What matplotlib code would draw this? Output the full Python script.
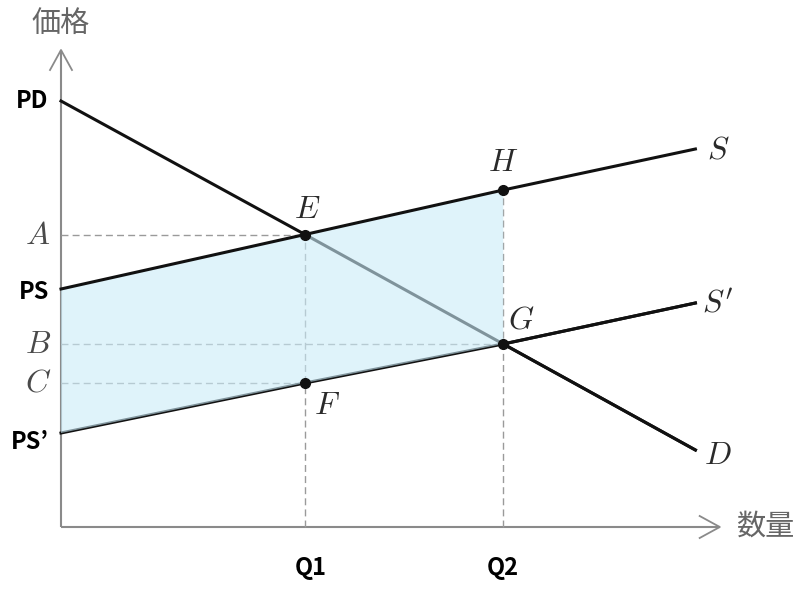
import matplotlib
matplotlib.use("Agg")
import matplotlib.pyplot as plt

plt.rcParams['font.family'] = ['Noto Sans CJK JP', 'DejaVu Sans']
plt.rcParams['mathtext.fontset'] = 'cm'

# quantities on the horizontal axis
q1 = 4.0
q2 = 7.25
x_end = 10.4
curve_x = [0, q1, q2, x_end]

# prices on the vertical axis
price_pd = 8.52
price_ps = 4.76
price_ps2 = 1.88
price_a = 5.85
price_b = 3.66
price_c = 2.88
price_h = 6.74

# curves: S (supply), S' (supply after subsidy), D (demand)
supply_y = [price_ps, price_a, price_h, 7.56]
supply2_y = [price_ps2, price_c, price_b, 4.48]
demand_y = [price_pd, price_a, price_b, 1.54]

x_top = 10.8
y_top = 9.54

fig = plt.figure(figsize=(8, 5.91), dpi=100)
ax = fig.add_axes([0, 0, 1, 1])
ax.set_xlim(-1, 800 / 61 - 1)
ax.set_ylim(-64 / 50, 527 / 50)
ax.axis('off')

axis_col = '#8a8a8a'
dash_col = '#9a9a9a'

# axes with open arrow heads
ax.plot([0, 0], [0, y_top], color=axis_col, lw=1.5, solid_capstyle='butt')
ax.plot([0, x_top], [0, 0], color=axis_col, lw=1.5, solid_capstyle='butt')
ax.plot([-0.18, 0, 0.18], [y_top - 0.4, y_top, y_top - 0.4], color=axis_col, lw=1.3)
ax.plot([x_top - 0.33, x_top, x_top - 0.33], [0.22, 0, -0.22], color=axis_col, lw=1.3)

# guide lines
dash = (0, (5, 3))
ax.plot([0, q1], [price_a, price_a], color=dash_col, lw=1, ls=dash)
ax.plot([0, q2], [price_b, price_b], color=dash_col, lw=1, ls=dash)
ax.plot([0, q1], [price_c, price_c], color=dash_col, lw=1, ls=dash)
ax.plot([q1, q1], [0, price_a], color=dash_col, lw=1, ls=dash)
ax.plot([q2, q2], [0, price_h], color=dash_col, lw=1, ls=dash)

# curves under the shaded area
ax.plot(curve_x, supply2_y, color='#111111', lw=2.2, zorder=2)
ax.plot(curve_x, demand_y, color='#111111', lw=2.2, zorder=2)

# subsidy area
poly_x = [0, q1, q2, q2, q1, 0]
poly_y = [supply_y[0], supply_y[1], supply_y[2], supply2_y[2], supply2_y[1], supply2_y[0]]
ax.fill(poly_x, poly_y, color=(202 / 255, 235 / 255, 248 / 255), alpha=0.6, lw=0, zorder=3)
ax.plot(curve_x[2:], supply2_y[2:], color='#111111', lw=2.2, zorder=4)
ax.plot(curve_x[2:], demand_y[2:], color='#111111', lw=2.2, zorder=4)
ax.plot(curve_x, supply_y, color='#111111', lw=2.2, zorder=4)

# points
pts_x = [q1, q1, q2, q2]
pts_y = [price_a, price_c, price_b, price_h]
ax.plot(pts_x, pts_y, 'o', color='#111111', ms=7, zorder=5)

# letter labels
serif = dict(fontsize=23, color='#2a2a2a', ha='center', va='center')
ax.text(q1 + 0.03, price_a + 0.5, '$E$', **serif)
ax.text(q1 + 0.36, price_c - 0.45, '$F$', **serif)
ax.text(q2 + 0.3, price_b + 0.48, '$G$', **serif)
ax.text(q2, price_h + 0.55, '$H$', **serif)
ax.text(x_end + 0.37, supply_y[-1] - 0.02, '$S$', **serif)
ax.text(x_end + 0.37, supply2_y[-1] - 0.02, "$S'$", **serif)
ax.text(x_end + 0.37, demand_y[-1] - 0.1, '$D$', **serif)

left = dict(fontsize=23, color='#4a4a4a', ha='center', va='center')
ax.text(-0.38, price_a, '$A$', **left)
ax.text(-0.38, price_b, '$B$', **left)
ax.text(-0.38, price_c, '$C$', **left)

sans = dict(fontsize=17, color='black', ha='right', va='center',
            family=['Noto Sans CJK JP', 'DejaVu Sans'], fontweight='bold')
ax.text(-0.2, price_pd, 'PD', **sans)
ax.text(-0.2, price_ps - 0.06, 'PS', **sans)
ax.text(-0.2, price_ps2 - 0.18, 'PS’', **sans)

tick = dict(fontsize=17, color='black', ha='center', va='center',
            family=['Noto Sans CJK JP', 'DejaVu Sans'], fontweight='bold')
ax.text(q1 + 0.1, -0.83, 'Q1', **tick)
ax.text(q2, -0.83, 'Q2', **tick)

ax.text(0.0, y_top + 0.52, '価格', fontsize=21, color='#666666', ha='center', va='center')
ax.text(x_top + 0.75, 0, '数量', fontsize=21, color='#666666', ha='center', va='center')

fig.savefig('out.png', dpi=100)
